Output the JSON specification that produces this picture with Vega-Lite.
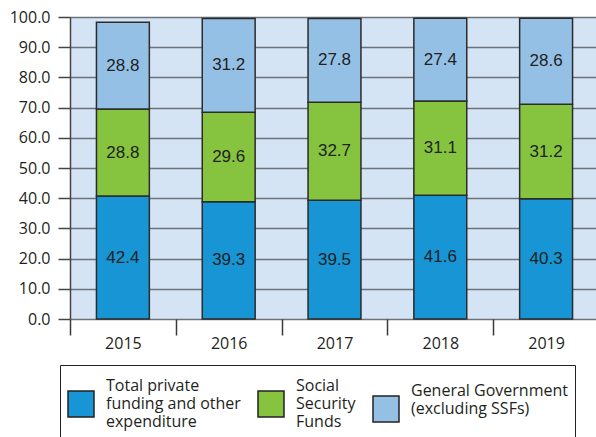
{
  "$schema": "https://vega.github.io/schema/vega-lite/v6.json",
  "width": 529,
  "height": 302,
  "autosize": "none",
  "padding": {"left": 70, "top": 17, "right": 0, "bottom": 118},
  "config": {
    "view": {"fill": "#d4e4f5", "stroke": null},
    "axisY": {
      "title": null, "format": ".1f",
      "grid": true, "gridColor": "#6d7179", "gridWidth": 1.5, "labelOverlap": false,
      "domain": true, "domainColor": "#444444", "domainWidth": 1.5,
      "tickSize": 12, "tickColor": "#444444", "tickWidth": 1.5,
      "labelFont": "Open Sans", "labelFontSize": 16, "labelColor": "#231f20", "labelPadding": 8
    }
  },
  "data": {
    "values": [
      {"year": "2015", "cat": "Total private funding and other expenditure", "order": 1, "value": 40.7, "label": "42.4"},
      {"year": "2015", "cat": "Social Security Funds", "order": 2, "value": 28.8, "label": "28.8"},
      {"year": "2015", "cat": "General Government (excluding SSFs)", "order": 3, "value": 28.8, "label": "28.8"},
      {"year": "2016", "cat": "Total private funding and other expenditure", "order": 1, "value": 38.8, "label": "39.3"},
      {"year": "2016", "cat": "Social Security Funds", "order": 2, "value": 29.7, "label": "29.6"},
      {"year": "2016", "cat": "General Government (excluding SSFs)", "order": 3, "value": 31.0, "label": "31.2"},
      {"year": "2017", "cat": "Total private funding and other expenditure", "order": 1, "value": 39.3, "label": "39.5"},
      {"year": "2017", "cat": "Social Security Funds", "order": 2, "value": 32.5, "label": "32.7"},
      {"year": "2017", "cat": "General Government (excluding SSFs)", "order": 3, "value": 27.7, "label": "27.8"},
      {"year": "2018", "cat": "Total private funding and other expenditure", "order": 1, "value": 41.0, "label": "41.6"},
      {"year": "2018", "cat": "Social Security Funds", "order": 2, "value": 31.2, "label": "31.1"},
      {"year": "2018", "cat": "General Government (excluding SSFs)", "order": 3, "value": 27.4, "label": "27.4"},
      {"year": "2019", "cat": "Total private funding and other expenditure", "order": 1, "value": 39.8, "label": "40.3"},
      {"year": "2019", "cat": "Social Security Funds", "order": 2, "value": 31.3, "label": "31.2"},
      {"year": "2019", "cat": "General Government (excluding SSFs)", "order": 3, "value": 28.5, "label": "28.6"}
    ]
  },
  "transform": [
    {"stack": "value", "groupby": ["year"], "sort": [{"field": "order"}], "as": ["y0", "y1"]},
    {"calculate": "(datum.y0 + datum.y1) / 2", "as": "ymid"}
  ],
  "encoding": {
    "x": {
      "field": "year", "type": "nominal",
      "scale": {"paddingInner": 0, "paddingOuter": 0},
      "axis": {
        "title": null, "labelAngle": 0, "domain": false, "grid": false,
        "tickBand": "extent", "tickSize": 16, "tickColor": "#3a3a3a", "tickWidth": 1.5,
        "labelFont": "Open Sans", "labelFontSize": 16, "labelColor": "#231f20", "labelPadding": 0
      }
    }
  },
  "layer": [
    {
      "mark": {"type": "bar", "stroke": "#2b2b2b", "strokeWidth": 1.5, "width": {"band": 0.5}},
      "encoding": {
        "y": {
          "field": "y0", "type": "quantitative",
          "scale": {"domain": [0, 100], "nice": false},
          "axis": {"values": [0, 10, 20, 30, 40, 50, 60, 70, 80, 90, 100]}
        },
        "y2": {"field": "y1"},
        "color": {
          "field": "cat", "type": "nominal",
          "scale": {
            "domain": ["Total private funding and other expenditure", "Social Security Funds", "General Government (excluding SSFs)"],
            "range": ["#1795d4", "#86c440", "#95c0e6"]
          },
          "legend": {
            "orient": "none", "legendX": -10, "legendY": 348,
            "direction": "horizontal", "columns": 3, "title": null,
            "symbolType": "M-1,0.385H1V2.385H-1Z", "symbolSize": 676, "symbolStrokeColor": "#222222", "symbolStrokeWidth": 1.5,
            "symbolOpacity": 1,
            "labelFont": "Open Sans", "labelFontSize": 16, "labelColor": "#231f20", "labelOffset": 11, "labelLimit": 400,
            "columnPadding": 14, "padding": 7, "strokeColor": "#222222", "fillColor": "white",
            "labelExpr": "datum.value == 'Social Security Funds' ? ['Social', 'Security', 'Funds'] : datum.value == 'General Government (excluding SSFs)' ? ['General Government', '(excluding SSFs)'] : ['Total private', 'funding and other', ' expenditure']"
          }
        }
      }
    },
    {
      "mark": {"type": "text", "font": "Liberation Sans", "fontSize": 17, "color": "#222222"},
      "encoding": {
        "y": {"field": "ymid", "type": "quantitative", "axis": {"values": [0, 10, 20, 30, 40, 50, 60, 70, 80, 90, 100]}},
        "text": {"field": "label"}
      }
    }
  ]
}
